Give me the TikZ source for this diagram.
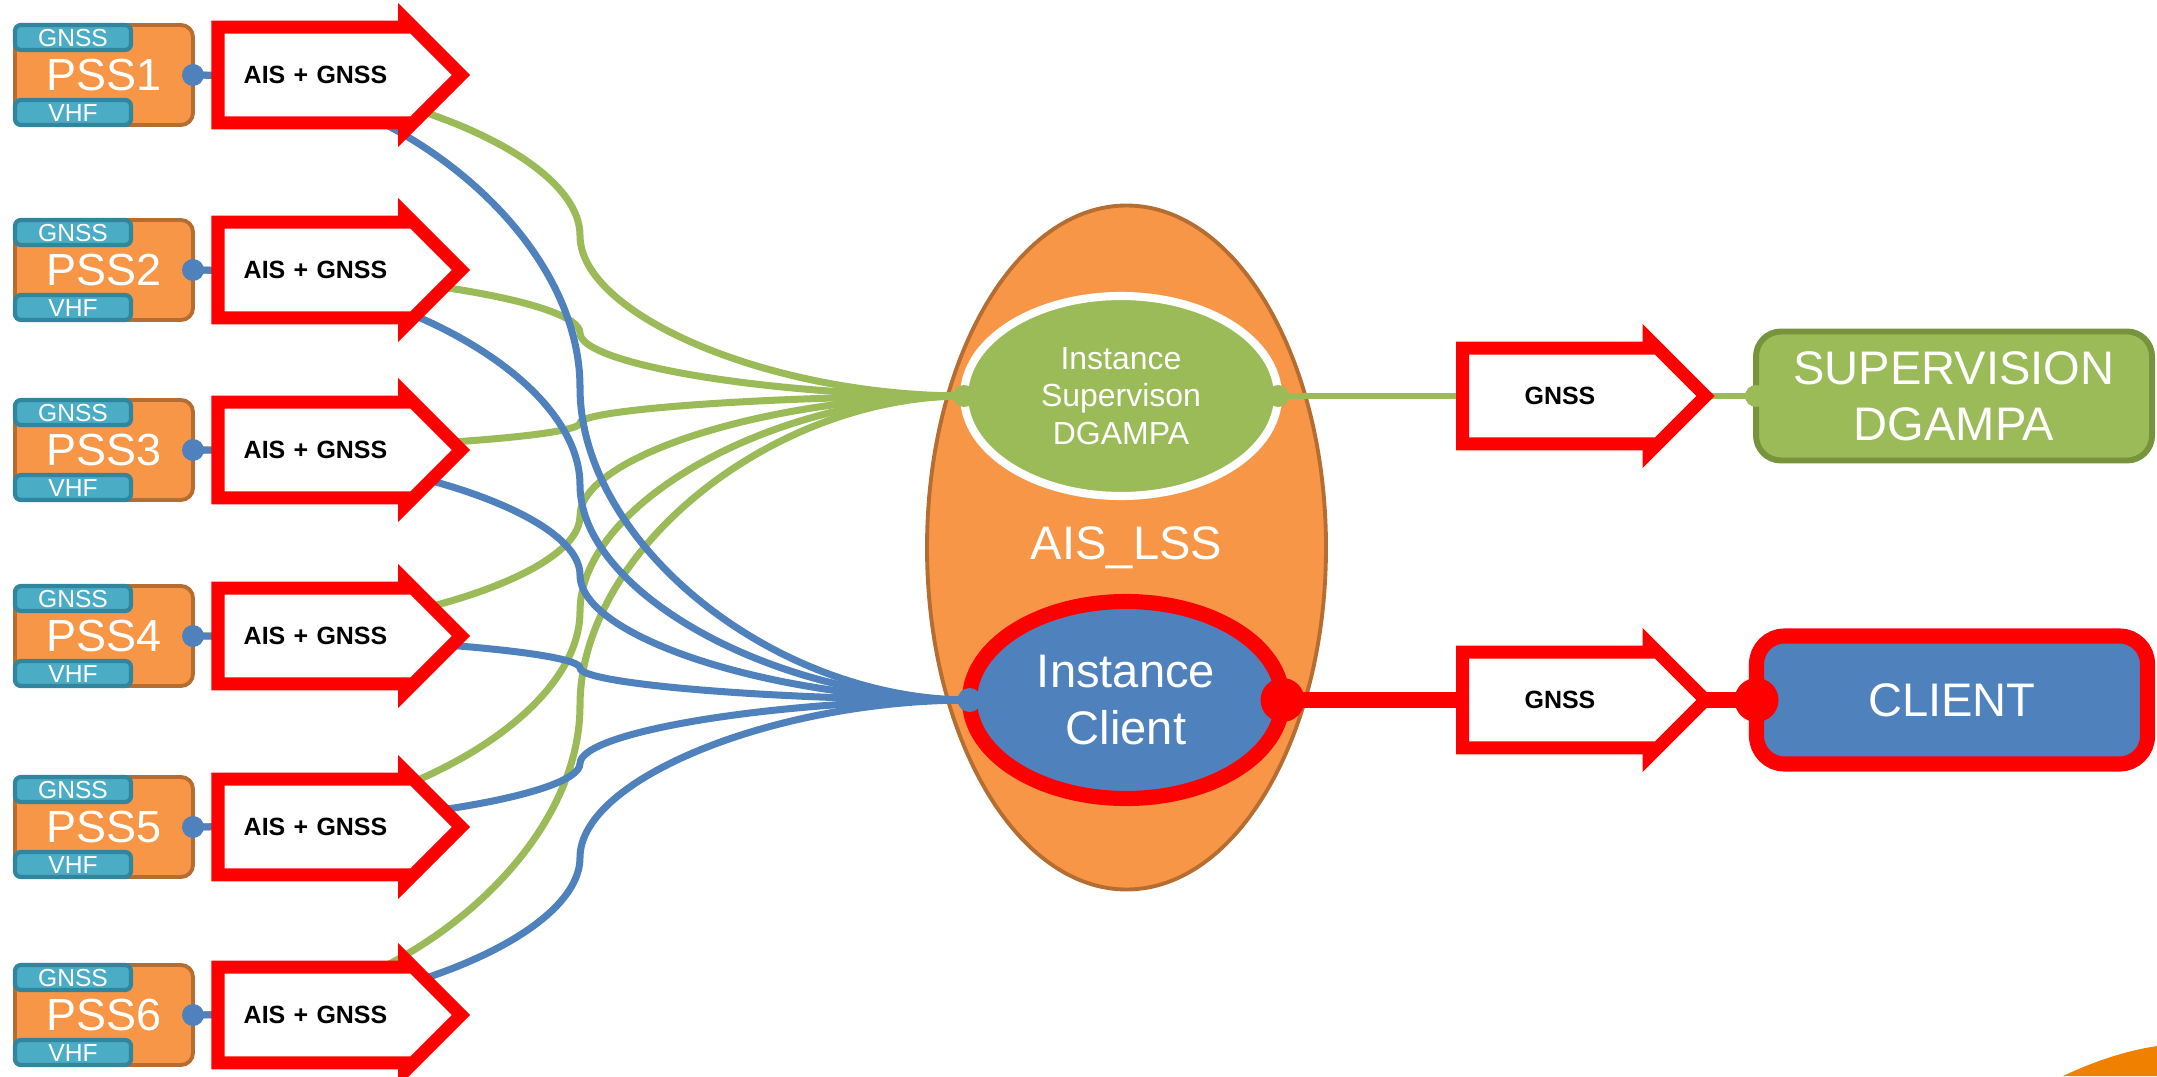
\documentclass[tikz,border=0pt]{standalone}
\usepackage{fontspec}
\setmainfont{Liberation Sans}
\usetikzlibrary{shapes.geometric,shapes.arrows,calc}

\definecolor{pssorange}{RGB}{247,150,70}
\definecolor{pssedge}{RGB}{182,109,49}
\definecolor{tabteal}{RGB}{75,172,198}
\definecolor{tabedge}{RGB}{49,133,156}
\definecolor{linkgreen}{RGB}{155,187,89}
\definecolor{boxgreen}{RGB}{119,147,60}
\definecolor{linkblue}{RGB}{79,129,189}
\definecolor{swoosh}{RGB}{240,128,0}

% curved connector: out horizontally, vertical at x of (bend), in horizontally
\newcommand{\bendlink}[3]{%
  \draw[#1] let \p1=(#2), \p2=(#3), \p3=(bend) in
    (\p1) .. controls ({(\x1+\x3)/2},\y1) and (\x3,{(3*\y1+\y2)/4}) .. (\x3,{(\y1+\y2)/2})
    .. controls (\x3,{(\y1+3*\y2)/4}) and ({(\x3+\x2)/2},\y2) .. (\p2);}

\begin{document}
\begin{tikzpicture}[
    pss/.style={draw=pssedge,fill=pssorange,line width=1.1pt,rounded corners=0.12cm,minimum width=1.78cm,minimum height=1cm,inner sep=0pt,outer sep=0pt,text=white,font=\fontsize{12.8}{14}\selectfont},
    tab/.style={draw=tabedge,fill=tabteal,line width=1.2pt,rounded corners=0.06cm,minimum width=1.16cm,minimum height=0.25cm,inner sep=0pt,outer sep=0pt,text=white,text height=5pt,text depth=0pt,font=\fontsize{7}{8}\selectfont},
    tag/.style={single arrow,draw=red,fill=white,line width=3.7pt,single arrow head extend=0.085cm,single arrow tip angle=90,text width=1.44cm,align=center,inner xsep=0.19cm,inner ysep=9.3pt,text height=5pt,text depth=0pt,font=\bfseries\fontsize{7.1}{8}\selectfont},
    big/.style={text=white,align=center,outer sep=0pt,font=\fontsize{13.4}{16}\selectfont},
    green link/.style={draw=linkgreen,line width=2pt},
    blue link/.style={draw=linkblue,line width=2pt}
  ]
    \useasboundingbox (0,0) rectangle (21.57,10.76);

    \fill[swoosh] (20.63,0) .. controls (20.95,0.15) and (21.25,0.25) .. (21.57,0.30) -- (21.57,0) -- cycle;

    % server side
    \node[big,ellipse,draw=pssedge,fill=pssorange,line width=1.1pt,minimum width=3.99cm,minimum height=6.84cm] (lss) at (11.265,5.285) {AIS\_LSS};
    \node[big,ellipse,draw=white,fill=linkgreen,line width=2.3pt,minimum width=3.14cm,minimum height=2cm,font=\fontsize{9.1}{10.7}\selectfont] (sup) at (11.21,6.80) {Instance\\Supervison\\DGAMPA};
    \node[big,ellipse,draw=red,fill=linkblue,line width=4.3pt,minimum width=3.13cm,minimum height=1.97cm] (cli) at (11.26,3.76) {Instance\\Client};

    \node[big,draw=boxgreen,fill=linkgreen,line width=1.7pt,rounded corners=0.25cm,minimum width=3.96cm,minimum height=1.29cm] (supbox) at (19.54,6.80) {SUPERVISION\\DGAMPA};
    \node[big,draw=red,fill=linkblue,line width=4.3pt,rounded corners=0.28cm,minimum width=3.91cm,minimum height=1.28cm] (clibox) at (19.52,3.76) {CLIENT};

    % stations
    \foreach \i/\row in {1/10.01,2/8.06,3/6.26,4/4.40,5/2.49,6/0.61}{
        \node[pss] (pss\i) at (1.04,\row) {PSS\i};
        \node[tab,anchor=north west] (gnss\i) at (pss\i.north west) {GNSS};
        \node[tab,anchor=south west] (vhf\i) at (pss\i.south west) {VHF};
    }

    \coordinate (bend) at (5.80,0);
    \foreach \i in {1,...,6} \bendlink{green link}{pss\i.east}{sup.west};
    \foreach \i in {1,...,6} \bendlink{blue link}{pss\i.east}{cli.west};

    \draw[green link,line width=1.8pt] (sup.east) -- (supbox.west);
    \draw[red,line width=4.3pt] (cli.east) -- (clibox.west);

    \foreach \i/\row in {1/10.01,2/8.06,3/6.26,4/4.40,5/2.49,6/0.61}{
        \node[tag] (ais\i) at (3.155,\row) {AIS + GNSS};
        \fill[linkblue] (pss\i.east) circle (0.11);
    }
    \node[tag] (gsup) at (15.60,6.80) {GNSS};
    \node[tag] (gcli) at (15.60,3.76) {GNSS};

    \fill[linkgreen] (sup.west) circle (0.11) (sup.east) circle (0.11) (supbox.west) circle (0.11);
    \fill[linkblue] (cli.west) circle (0.12);
    \fill[red] (cli.east) circle (0.22) (clibox.west) circle (0.22);
\end{tikzpicture}
\end{document}
